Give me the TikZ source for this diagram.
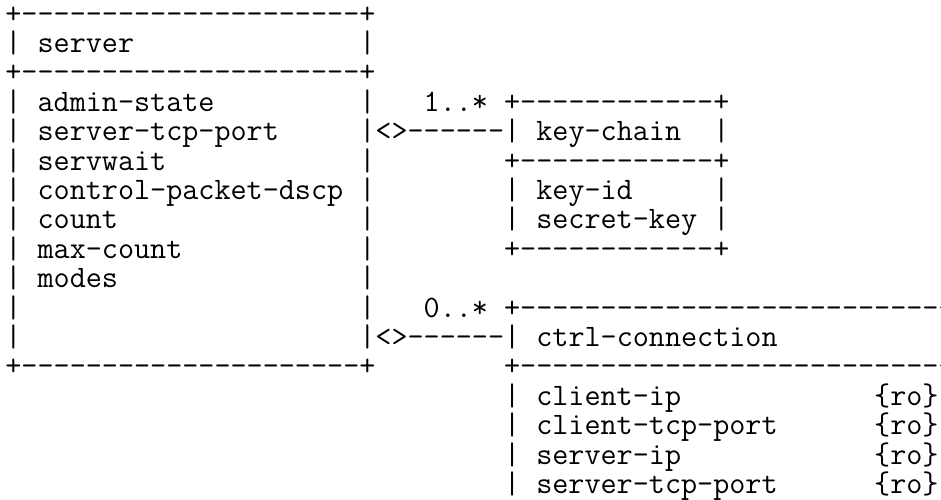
\documentclass[tikz,border=0pt]{standalone}
\usepackage{fontspec}
\setmonofont{Latin Modern Mono}
% n blank character cells of the typewriter font
\newcommand\gap[1]{\hspace*{#1\fontcharwd\font`x}}
\tikzset{
  row/.style={anchor=base west, inner sep=0pt,
    font=\ttfamily\fontsize{15.62pt}{15.62pt}\selectfont}
}

\begin{document}
\begin{tikzpicture}[x=0.5pt, y=-0.5pt]
  \clip (0,0) rectangle (941,499);
  % server box with its two associations
  \node[row] (srvtop)   at (5,23)    {+---------------------+};
  \node[row] (srvhead)  at (5,52.4)  {|\gap{1}server\gap{14}|};
  \node[row] (srvsep)   at (5,81.8)  {+---------------------+};
  \node[row] (admin)    at (5,111.2) {|\gap{1}admin-state\gap{9}|\gap{3}1..*\gap{1}+------------+};
  \node[row] (srvport)  at (5,140.6) {|\gap{1}server-tcp-port\gap{5}|<>------|\gap{1}key-chain\gap{2}|};
  \node[row] (servwait) at (5,170)   {|\gap{1}servwait\gap{12}|\gap{8}+------------+};
  \node[row] (dscp)     at (5,199.4) {|\gap{1}control-packet-dscp\gap{1}|\gap{8}|\gap{1}key-id\gap{5}|};
  \node[row] (count)    at (5,228.8) {|\gap{1}count\gap{15}|\gap{8}|\gap{1}secret-key\gap{1}|};
  \node[row] (maxcount) at (5,258.2) {|\gap{1}max-count\gap{11}|\gap{8}+------------+};
  \node[row] (modes)    at (5,287.6) {|\gap{1}modes\gap{15}|};
  \node[row] (ctrltop)  at (5,317)   {|\gap{21}|\gap{3}0..*\gap{1}+------------------------------};
  \node[row] (ctrlhead) at (5,346.4) {|\gap{21}|<>------|\gap{1}ctrl-connection};
  \node[row] (srvbot)   at (5,375.8) {+---------------------+\gap{8}+------------------------------};
  % ctrl-connection attributes
  \node[row] (cip)      at (5,405.2) {\gap{31}|\gap{1}client-ip\gap{12}\{ro\}};
  \node[row] (cport)    at (5,434.6) {\gap{31}|\gap{1}client-tcp-port\gap{6}\{ro\}};
  \node[row] (sip)      at (5,464)   {\gap{31}|\gap{1}server-ip\gap{12}\{ro\}};
  \node[row] (sport)    at (5,493.4) {\gap{31}|\gap{1}server-tcp-port\gap{6}\{ro\}};
\end{tikzpicture}
\end{document}
